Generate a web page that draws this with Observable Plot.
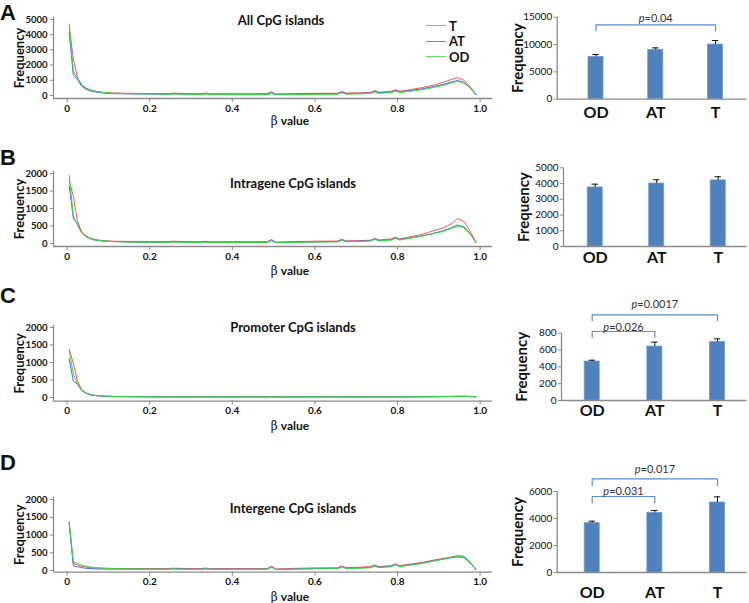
<!DOCTYPE html>
<html>
<head>
<meta charset="utf-8">
<script src="https://cdn.jsdelivr.net/npm/d3@7"></script>
<script src="https://cdn.jsdelivr.net/npm/@observablehq/plot@0.6"></script>
<style>
  body { margin: 0; background: #fff; }
  #fig { position: relative; width: 749px; height: 603px; font-family: Lato, "Open Sans", sans-serif; color: #111; overflow: hidden; }
  .abs { position: absolute; }
  .letter { font-family: "Liberation Sans", Arial, sans-serif; font-weight: bold; font-size: 22px; line-height: 1; }
  .legend { font-weight: bold; font-size: 13px; }
  .legend .row { display: flex; align-items: center; height: 15.5px; }
  .legend .sw { display: inline-block; width: 20px; height: 0; border-top: 1.6px solid; margin-right: 3px; opacity: 0.8; }
  svg text { font-family: Lato, "Open Sans", sans-serif; }
</style>
</head>
<body>
<div id="fig"></div>
<script>
// ---------------- data ----------------
const seriesNames = ["T", "AT", "OD"];
const betaTicks = [0, 0.2, 0.4, 0.6, 0.8, 1.0];
const beta = [0.005,0.015,0.025,0.035,0.045,0.055,0.065,0.075,0.09,0.11,0.15,0.2,0.245,0.255,0.3,0.325,0.335,0.345,0.4,0.45,0.485,0.495,0.505,0.55,0.6,0.655,0.665,0.675,0.7,0.735,0.745,0.755,0.785,0.795,0.805,0.83,0.86,0.89,0.91,0.93,0.945,0.96,0.97,0.98,0.99];

// A: all CpG islands
const allT  = [4550,2400,1200,700,480,360,290,240,190,160,140,130,120,150,115,115,160,115,110,110,120,230,90,120,140,150,260,160,170,200,320,210,280,380,270,380,520,700,850,1050,1180,1000,760,440,60];
const allAT = [4150,1350,1050,620,420,310,250,200,160,120,100,90,85,110,80,80,120,80,80,80,90,200,70,90,100,110,220,120,130,160,290,170,230,330,230,320,440,600,720,880,980,870,660,380,50];
const allOD = [4700,1600,1150,720,500,380,300,240,190,150,120,100,80,90,70,70,90,70,60,60,60,120,40,60,70,80,180,90,100,130,230,140,190,280,190,270,380,540,660,820,940,830,630,360,40];
// B: intragene CpG islands
const intraT  = [1800,1350,650,330,220,160,120,100,80,65,60,55,55,65,50,50,65,50,50,50,55,110,40,55,65,70,120,75,80,95,150,100,130,180,130,190,260,380,440,560,710,630,470,260,40];
const intraAT = [1650,720,560,310,200,140,105,85,70,55,45,40,40,50,38,38,50,38,38,38,40,100,30,42,50,55,105,60,65,80,135,85,110,160,110,160,220,300,360,450,530,480,370,210,30];
const intraOD = [1950,800,520,300,210,150,110,90,70,55,40,35,30,40,30,30,40,30,30,30,32,80,22,32,40,45,90,50,55,70,120,75,100,150,100,150,210,290,340,430,490,450,350,200,30];
// C: promoter CpG islands
const promT  = [1380,980,480,230,140,90,65,50,40,32,25,20,18,20,18,18,20,18,18,18,18,22,16,18,18,18,20,18,18,18,20,18,18,20,18,20,22,25,28,32,35,36,34,30,20];
const promAT = [1100,470,380,200,120,80,60,45,36,28,22,18,16,18,16,16,18,16,16,16,16,20,14,16,16,16,18,16,16,16,18,16,16,18,16,18,20,22,25,28,30,31,30,26,18];
const promOD = [1350,680,400,210,130,85,62,48,38,30,24,19,17,19,17,17,19,17,17,17,17,21,15,17,17,17,19,17,17,17,19,17,17,19,17,19,21,24,27,30,33,34,32,28,19];
// D: intergene CpG islands
const interT  = [1300,200,160,120,100,85,75,70,65,60,55,55,55,65,55,55,70,55,55,55,60,120,45,60,75,80,130,85,90,110,160,110,140,190,140,180,230,300,340,380,420,400,300,170,30];
const interAT = [1350,130,110,80,65,55,50,45,40,40,38,38,38,48,38,38,50,38,38,38,42,100,30,42,55,60,110,65,70,90,140,90,120,170,120,160,210,280,320,360,380,370,280,160,30];
const interOD = [1380,250,200,150,120,100,85,75,65,55,45,40,38,45,35,35,45,35,35,35,38,90,28,38,48,52,100,58,62,80,125,82,110,160,110,150,200,270,320,370,410,400,310,180,35];

// bar charts
const groups = ["OD", "AT", "T"];
const allMean = [7750, 9030, 10000],  allErr = [420, 360, 730];
const intraMean = [3750, 4000, 4200], intraErr = [210, 240, 230];
const promMean = [463, 641, 697],     promErr = [16, 52, 36];
const interMean = [3654, 4420, 5185], interErr = [146, 173, 420];

// significance comparisons
const allPairs = [["OD", "T"]],                allP = ["0.04"];
const promPairs = [["OD", "AT"], ["OD", "T"]], promP = ["0.026", "0.0017"];
const interPairs = [["OD", "AT"], ["OD", "T"]], interP = ["0.031", "0.017"];

const titles = ["All CpG islands", "Intragene CpG islands", "Promoter CpG islands", "Intergene CpG islands"];
const letters = ["A", "B", "C", "D"];

// ---------------- styles / layout ----------------
const seriesColors = ["#ff5555", "#4466ff", "#33dd33"];
const axisColor = "#8a8a8a";
const barColor = "#4f81bd";
const bracketColor = "#5b8bd0";
const fmtBeta = d => d === 0 ? "0" : d.toFixed(1);

const lineLayouts = [
  {top: 0,   height: 135, fTop: 17,   fBot: 98,    yDom: [-200, 5130], yTicks: [0,1000,2000,3000,4000,5000], titleDx: 8,  titleDy: 3,  betaDy: 23},
  {top: 135, height: 145, fTop: 36,   fBot: 111,   yDom: [-86, 2057],  yTicks: [0,500,1000,1500,2000],       titleDx: 20, titleDy: 12, betaDy: 24.5},
  {top: 280, height: 155, fTop: 45,   fBot: 120.6, yDom: [-103, 2057], yTicks: [0,500,1000,1500,2000],       titleDx: 20, titleDy: 2,  betaDy: 25.4},
  {top: 435, height: 168, fTop: 61.7, fBot: 136.7, yDom: [-47, 2066],  yTicks: [0,500,1000,1500,2000],       titleDx: 20, titleDy: 12, betaDy: 25.3}
];
const barLayouts = [
  {top: 0,   height: 135, fTop: 16.7, fBot: 98.7, axisX: 556.7, c0: 595.5, c2: 715, yMax: 15000, yTicks: [0,5000,10000,15000], catPad: 7,
   br: [[12500, 13600, 14750]]},
  {top: 135, height: 145, fTop: 32.3, fBot: 111,  axisX: 563,   c0: 594.7, c2: 717.7, yMax: 5000, yTicks: [0,1000,2000,3000,4000,5000], catPad: 5.5, br: []},
  {top: 280, height: 155, fTop: 52.7, fBot: 120,  axisX: 561,   c0: 591.7, c2: 717, yMax: 800, yTicks: [0,200,400,600,800], catPad: 4.5,
   br: [[752, 820, 871], [950, 1018, 1137]]},
  {top: 435, height: 168, fTop: 56,   fBot: 137,  axisX: 556.7, c0: 591.7, c2: 717, yMax: 6000, yTicks: [0,2000,4000,6000], catPad: 14,
   br: [[5160, 5630, 6025], [6444, 6938, 7605]]}
];

const fig = document.getElementById("fig");
function place(node, left, top, width) {
  const d = document.createElement("div");
  d.className = "abs";
  d.style.left = left + "px"; d.style.top = top + "px";
  if (width) d.style.width = width + "px";
  d.appendChild(node);
  fig.appendChild(d);
  return d;
}

function lineChart(L, vals, title) {
  const rows = [];
  seriesNames.forEach((s, k) => vals[k].forEach((v, i) => rows.push({beta: beta[i], freq: v, series: s})));
  const xDom = [-0.033, 1.03];
  const svg = Plot.plot({
    width: 500, height: L.height,
    marginLeft: 53, marginRight: 8, marginTop: L.fTop, marginBottom: L.height - L.fBot,
    style: {background: "transparent", overflow: "visible", fontFamily: "Lato, sans-serif"},
    x: {domain: xDom},
    y: {domain: L.yDom},
    color: {domain: seriesNames, range: seriesColors},
    marks: [
      Plot.ruleX([xDom[0]], {stroke: axisColor, strokeWidth: 1.3}),
      Plot.ruleY([L.yDom[0]], {stroke: axisColor, strokeWidth: 1.3}),
      Plot.axisX({ticks: betaTicks, tickFormat: fmtBeta, tickSize: 4, tickPadding: 2, stroke: axisColor, fill: "#111",
                  fontSize: 10, fontWeight: "bold", label: null}),
      Plot.axisY({ticks: L.yTicks, tickFormat: "d", tickSize: 3, tickPadding: 3, stroke: axisColor, fill: "#111",
                  fontSize: 9.5, fontWeight: "bold", label: null}),
      Plot.line(rows, {x: "beta", y: "freq", z: "series", stroke: "series", strokeWidth: 1}),
      Plot.text(["Frequency"], {text: d => d, frameAnchor: "left", textAnchor: "middle", lineAnchor: "middle", rotate: -90, dx: -34,
                                fontSize: 13, fontWeight: "bold", fill: "#111"}),
      Plot.text(["β value"], {text: d => d, frameAnchor: "bottom", textAnchor: "middle", lineAnchor: "middle", dx: 17, dy: L.betaDy,
                              fontSize: 12, fontWeight: "bold", fill: "#111"}),
      Plot.text([title], {text: d => d, frameAnchor: "top", textAnchor: "middle", lineAnchor: "middle", dx: L.titleDx, dy: L.titleDy,
                          fontSize: 13, fontWeight: "bold", fill: "#111"})
    ]
  });
  svg.querySelectorAll("text").forEach(t => {
    if (t.textContent === "β value") {
      t.innerHTML = '<tspan font-family="DejaVu Serif, serif" font-weight="normal">β</tspan> value';
    }
  });
  place(svg, 0, L.top, 500);
}

function barChart(L, means, errs, pairs, pvals) {
  const step = (L.c2 - L.c0) / 2;
  const xDom = [(L.axisX - L.c0) / step, (746.5 - L.c0) / step];
  const hw = 7.5 / step, cw = 3.2 / step;
  const rows = groups.map((g, i) => ({i, g, mean: means[i], err: errs[i]}));
  const brRows = [];
  pairs.forEach(([a, b], k) => {
    const ia = groups.indexOf(a), ib = groups.indexOf(b), lv = L.br[k];
    [[ia, lv[0]], [ia, lv[1]], [ib, lv[1]], [ib, lv[0]]].forEach(([x, y]) => brRows.push({x, y, k}));
  });
  const svg = Plot.plot({
    width: 289, height: L.height,
    marginLeft: L.axisX - 460, marginRight: 289 - (746.5 - 460), marginTop: L.fTop, marginBottom: L.height - L.fBot,
    style: {background: "transparent", overflow: "visible", fontFamily: "Lato, sans-serif"},
    x: {domain: xDom},
    y: {domain: [0, L.yMax]},
    marks: [
      Plot.rectY(rows, {x1: d => d.i - hw, x2: d => d.i + hw, y: "mean", fill: barColor, stroke: "#6f98cc", strokeWidth: 0.8}),
      Plot.ruleX(rows, {x: "i", y1: "mean", y2: d => d.mean + d.err, stroke: "#111", strokeWidth: 1}),
      Plot.ruleY(rows, {y: d => d.mean + d.err, x1: d => d.i - cw, x2: d => d.i + cw, stroke: "#111", strokeWidth: 1}),
      Plot.ruleX([xDom[0]], {stroke: axisColor, strokeWidth: 1.3}),
      Plot.ruleY([0], {stroke: axisColor, strokeWidth: 1.3}),
      Plot.axisY({ticks: L.yTicks, tickFormat: "d", tickSize: 3, tickPadding: 2, stroke: axisColor, fill: "#111",
                  fontSize: 10, label: null}),
      Plot.axisX({ticks: [0, 1, 2], tickFormat: i => groups[i], tickSize: 0, tickPadding: L.catPad, fill: "#111",
                  fontSize: 16, fontWeight: "bold", label: null}),
      Plot.line(brRows, {x: "x", y: "y", z: "k", stroke: bracketColor, strokeWidth: 1.2}),
      Plot.text(pairs, {x: ([a, b]) => (groups.indexOf(a) + groups.indexOf(b)) / 2, y: (d, k) => L.br[k][2],
                        text: (d, k) => "p=" + pvals[k], fontSize: 11, fill: "#333"}),
      Plot.text(["Frequency"], {text: d => d, frameAnchor: "left", textAnchor: "middle", lineAnchor: "middle", rotate: -90, dx: -39,
                                fontSize: 15, fontWeight: "bold", fill: "#111"})
    ]
  });
  svg.querySelectorAll("text").forEach(t => {
    const s = t.textContent;
    if (s.startsWith("p=")) t.innerHTML = '<tspan font-style="italic">p</tspan>' + s.slice(1);
  });
  place(svg, 460, L.top, 289);
}

lineChart(lineLayouts[0], [allT, allAT, allOD], titles[0]);
lineChart(lineLayouts[1], [intraT, intraAT, intraOD], titles[1]);
lineChart(lineLayouts[2], [promT, promAT, promOD], titles[2]);
lineChart(lineLayouts[3], [interT, interAT, interOD], titles[3]);

barChart(barLayouts[0], allMean, allErr, allPairs, allP);
barChart(barLayouts[1], intraMean, intraErr, [], []);
barChart(barLayouts[2], promMean, promErr, promPairs, promP);
barChart(barLayouts[3], interMean, interErr, interPairs, interP);

// panel letters
const letterTops = [2, 147, 285, 452];
letters.forEach((l, i) => {
  const d = document.createElement("div");
  d.className = "abs letter"; d.textContent = l;
  d.style.left = "0px"; d.style.top = letterTops[i] + "px";
  fig.appendChild(d);
});

// legend (panel A)
const leg = document.createElement("div");
leg.className = "legend";
seriesNames.forEach((s, k) => {
  const r = document.createElement("div"); r.className = "row";
  const sw = document.createElement("span"); sw.className = "sw"; sw.style.borderTopColor = seriesColors[k];
  const lb = document.createElement("span"); lb.textContent = s;
  r.appendChild(sw); r.appendChild(lb); leg.appendChild(r);
});
place(leg, 426, 18, 60);
</script>
</body>
</html>
